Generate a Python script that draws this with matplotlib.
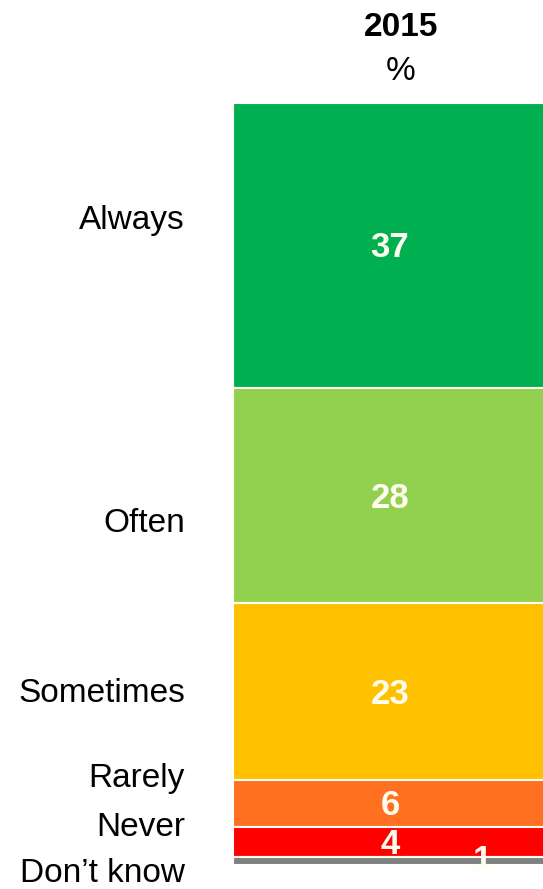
import matplotlib
matplotlib.use("Agg")
import matplotlib.pyplot as plt
from matplotlib.transforms import offset_copy

categories = ["Always", "Often", "Sometimes", "Rarely", "Never", "Don\u2019t know"]
values = [37, 28, 23, 6, 4, 1]
colors = ["#00B050", "#92D050", "#FFC000", "#FF7020", "#FF0000", "#808080"]
year = "2015"

W, H = 543, 889
fig = plt.figure(figsize=(W / 100, H / 100), dpi=100)
plt.rcParams['font.family'] = ['Liberation Sans', 'DejaVu Sans']

# axes: left at px 233, right at 543; y from px 103 (top) to 865 (bottom)
ax = fig.add_axes([233 / W, 1 - 865 / H, (W - 233) / W, (865 - 103) / H])
total = sum(values)
ax.set_ylim(total, 0)
ax.set_xlim(0, 310)
ax.axis("off")

txt_col = "#FFFDF0"
tr = offset_copy(ax.transData, fig=fig, x=0, y=-2.5, units="dots")
bottom = 0
for i, (v, c) in enumerate(zip(values, colors)):
    ax.bar(157, v, width=314, bottom=bottom, color=c, edgecolor="#FFFDF0", linewidth=1.5, align="center")
    cy = bottom + v / 2
    if i == len(values) - 1:
        ax.text(249, cy - 0.45, str(v), ha="center", va="center", color=txt_col,
                fontsize=25, fontweight="bold", clip_on=False, transform=tr)
    else:
        ax.text(157, cy, str(v), ha="center", va="center", color=txt_col,
                fontsize=25, fontweight="bold", transform=tr)
    bottom += v

# category labels (pixel positions from reference)
label_y = [221, 524, 693, 778, 828, 873]
for cat, y in zip(categories, label_y):
    fig.text(185 / W, 1 - y / H, cat, ha="right", va="center", fontsize=24, color="black")

fig.text(401 / W, 1 - 28 / H, year, ha="center", va="center", fontsize=24, fontweight="bold")
fig.text(401 / W, 1 - 71 / H, "%", ha="center", va="center", fontsize=24)

fig.savefig("out.png", dpi=100)
